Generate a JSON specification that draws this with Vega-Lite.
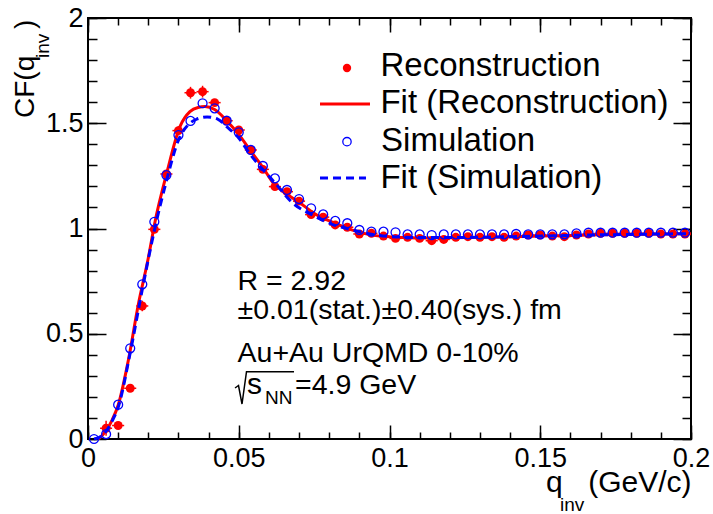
{
  "$schema": "https://vega.github.io/schema/vega-lite/v6.json",
  "width": 603,
  "height": 421,
  "autosize": {"type": "none"},
  "padding": {"left": 88, "top": 18, "right": 22, "bottom": 75},
  "background": "white",
  "config": {
    "view": {"stroke": "black", "strokeWidth": 2},
    "font": "Liberation Sans",
    "axis": {
      "domain": false,
      "grid": false,
      "title": null,
      "tickColor": "black",
      "tickWidth": 1.5,
      "labelColor": "black",
      "labelFont": "Liberation Sans",
      "labelFontSize": 27,
      "labelFlush": false,
      "labelOverlap": false,
      "labelBound": false
    }
  },
  "datasets": {
    "reco": [
      {"q": 0.006, "cf": 0.051, "err": 0.036, "qerr": 0.002},
      {"q": 0.010, "cf": 0.064, "err": 0.015, "qerr": 0.002},
      {"q": 0.014, "cf": 0.241, "err": 0.018, "qerr": 0.002},
      {"q": 0.018, "cf": 0.632, "err": 0.025, "qerr": 0.002},
      {"q": 0.022, "cf": 0.996, "err": 0.015, "qerr": 0.002},
      {"q": 0.026, "cf": 1.259, "err": 0.015, "qerr": 0.002},
      {"q": 0.030, "cf": 1.465, "err": 0.022, "qerr": 0.002},
      {"q": 0.034, "cf": 1.645, "err": 0.028, "qerr": 0.002},
      {"q": 0.038, "cf": 1.650, "err": 0.028, "qerr": 0.002},
      {"q": 0.042, "cf": 1.598, "err": 0.015, "qerr": 0.002},
      {"q": 0.046, "cf": 1.512, "err": 0.012, "qerr": 0.002},
      {"q": 0.050, "cf": 1.468, "err": 0.012, "qerr": 0.002},
      {"q": 0.054, "cf": 1.373, "err": 0.010, "qerr": 0.002},
      {"q": 0.058, "cf": 1.281, "err": 0.010, "qerr": 0.002},
      {"q": 0.062, "cf": 1.199, "err": 0.010, "qerr": 0.002},
      {"q": 0.066, "cf": 1.175, "err": 0.008, "qerr": 0.002},
      {"q": 0.070, "cf": 1.130, "err": 0.008, "qerr": 0.002},
      {"q": 0.074, "cf": 1.066, "err": 0.008, "qerr": 0.002},
      {"q": 0.078, "cf": 1.054, "err": 0.008, "qerr": 0.002},
      {"q": 0.082, "cf": 1.017, "err": 0.008, "qerr": 0.002},
      {"q": 0.086, "cf": 1.006, "err": 0.008, "qerr": 0.002},
      {"q": 0.090, "cf": 0.974, "err": 0.008, "qerr": 0.002},
      {"q": 0.094, "cf": 0.977, "err": 0.008, "qerr": 0.002},
      {"q": 0.098, "cf": 0.964, "err": 0.008, "qerr": 0.002},
      {"q": 0.102, "cf": 0.953, "err": 0.008, "qerr": 0.002},
      {"q": 0.106, "cf": 0.958, "err": 0.008, "qerr": 0.002},
      {"q": 0.110, "cf": 0.953, "err": 0.008, "qerr": 0.002},
      {"q": 0.114, "cf": 0.942, "err": 0.008, "qerr": 0.002},
      {"q": 0.118, "cf": 0.948, "err": 0.008, "qerr": 0.002},
      {"q": 0.122, "cf": 0.958, "err": 0.008, "qerr": 0.002},
      {"q": 0.126, "cf": 0.961, "err": 0.008, "qerr": 0.002},
      {"q": 0.130, "cf": 0.958, "err": 0.008, "qerr": 0.002},
      {"q": 0.134, "cf": 0.961, "err": 0.008, "qerr": 0.002},
      {"q": 0.138, "cf": 0.958, "err": 0.008, "qerr": 0.002},
      {"q": 0.142, "cf": 0.964, "err": 0.008, "qerr": 0.002},
      {"q": 0.146, "cf": 0.969, "err": 0.008, "qerr": 0.002},
      {"q": 0.150, "cf": 0.969, "err": 0.008, "qerr": 0.002},
      {"q": 0.154, "cf": 0.964, "err": 0.008, "qerr": 0.002},
      {"q": 0.158, "cf": 0.961, "err": 0.008, "qerr": 0.002},
      {"q": 0.162, "cf": 0.969, "err": 0.008, "qerr": 0.002},
      {"q": 0.166, "cf": 0.974, "err": 0.008, "qerr": 0.002},
      {"q": 0.170, "cf": 0.977, "err": 0.008, "qerr": 0.002},
      {"q": 0.174, "cf": 0.977, "err": 0.008, "qerr": 0.002},
      {"q": 0.178, "cf": 0.977, "err": 0.008, "qerr": 0.002},
      {"q": 0.182, "cf": 0.977, "err": 0.008, "qerr": 0.002},
      {"q": 0.186, "cf": 0.977, "err": 0.008, "qerr": 0.002},
      {"q": 0.190, "cf": 0.974, "err": 0.008, "qerr": 0.002},
      {"q": 0.194, "cf": 0.974, "err": 0.008, "qerr": 0.002},
      {"q": 0.198, "cf": 0.974, "err": 0.008, "qerr": 0.002}
    ],
    "sim": [
      {"q": 0.002, "cf": 0.000},
      {"q": 0.006, "cf": 0.023},
      {"q": 0.010, "cf": 0.163},
      {"q": 0.014, "cf": 0.431},
      {"q": 0.018, "cf": 0.735},
      {"q": 0.022, "cf": 1.032},
      {"q": 0.026, "cf": 1.254},
      {"q": 0.030, "cf": 1.444},
      {"q": 0.034, "cf": 1.511},
      {"q": 0.038, "cf": 1.595},
      {"q": 0.042, "cf": 1.571},
      {"q": 0.046, "cf": 1.512},
      {"q": 0.050, "cf": 1.457},
      {"q": 0.054, "cf": 1.373},
      {"q": 0.058, "cf": 1.297},
      {"q": 0.062, "cf": 1.238},
      {"q": 0.066, "cf": 1.183},
      {"q": 0.070, "cf": 1.140},
      {"q": 0.074, "cf": 1.096},
      {"q": 0.078, "cf": 1.067},
      {"q": 0.082, "cf": 1.036},
      {"q": 0.086, "cf": 1.025},
      {"q": 0.090, "cf": 0.993},
      {"q": 0.094, "cf": 0.985},
      {"q": 0.098, "cf": 0.985},
      {"q": 0.102, "cf": 0.982},
      {"q": 0.106, "cf": 0.972},
      {"q": 0.110, "cf": 0.972},
      {"q": 0.114, "cf": 0.969},
      {"q": 0.118, "cf": 0.972},
      {"q": 0.122, "cf": 0.972},
      {"q": 0.126, "cf": 0.972},
      {"q": 0.130, "cf": 0.972},
      {"q": 0.134, "cf": 0.972},
      {"q": 0.138, "cf": 0.972},
      {"q": 0.142, "cf": 0.974},
      {"q": 0.146, "cf": 0.972},
      {"q": 0.150, "cf": 0.972},
      {"q": 0.154, "cf": 0.972},
      {"q": 0.158, "cf": 0.972},
      {"q": 0.162, "cf": 0.977},
      {"q": 0.166, "cf": 0.980},
      {"q": 0.170, "cf": 0.980},
      {"q": 0.174, "cf": 0.980},
      {"q": 0.178, "cf": 0.980},
      {"q": 0.182, "cf": 0.980},
      {"q": 0.186, "cf": 0.980},
      {"q": 0.190, "cf": 0.980},
      {"q": 0.194, "cf": 0.980},
      {"q": 0.198, "cf": 0.980}
    ],
    "fitReco": [
      {"q": 0.0035, "cf": 0.0},
      {"q": 0.006, "cf": 0.04},
      {"q": 0.008, "cf": 0.09},
      {"q": 0.010, "cf": 0.16},
      {"q": 0.0134, "cf": 0.375},
      {"q": 0.0167, "cf": 0.64},
      {"q": 0.020, "cf": 0.86},
      {"q": 0.0222, "cf": 1.03},
      {"q": 0.0261, "cf": 1.262},
      {"q": 0.0305, "cf": 1.484},
      {"q": 0.0338, "cf": 1.555},
      {"q": 0.0365, "cf": 1.575},
      {"q": 0.0388, "cf": 1.579},
      {"q": 0.042, "cf": 1.565},
      {"q": 0.046, "cf": 1.512},
      {"q": 0.050, "cf": 1.447},
      {"q": 0.0537, "cf": 1.373},
      {"q": 0.058, "cf": 1.29},
      {"q": 0.0615, "cf": 1.215},
      {"q": 0.0648, "cf": 1.175},
      {"q": 0.070, "cf": 1.125},
      {"q": 0.0759, "cf": 1.064},
      {"q": 0.081, "cf": 1.03},
      {"q": 0.0869, "cf": 0.996},
      {"q": 0.093, "cf": 0.972},
      {"q": 0.1024, "cf": 0.958},
      {"q": 0.110, "cf": 0.955},
      {"q": 0.120, "cf": 0.956},
      {"q": 0.130, "cf": 0.958},
      {"q": 0.140, "cf": 0.961},
      {"q": 0.150, "cf": 0.964},
      {"q": 0.160, "cf": 0.967},
      {"q": 0.170, "cf": 0.970},
      {"q": 0.180, "cf": 0.972},
      {"q": 0.190, "cf": 0.974},
      {"q": 0.200, "cf": 0.975}
    ],
    "fitSim": [
      {"q": 0.002, "cf": 0.0},
      {"q": 0.005, "cf": 0.02},
      {"q": 0.008, "cf": 0.085},
      {"q": 0.010, "cf": 0.15},
      {"q": 0.014, "cf": 0.41},
      {"q": 0.018, "cf": 0.71},
      {"q": 0.022, "cf": 0.99},
      {"q": 0.026, "cf": 1.225},
      {"q": 0.030, "cf": 1.42},
      {"q": 0.0338, "cf": 1.50},
      {"q": 0.036, "cf": 1.519},
      {"q": 0.0395, "cf": 1.53},
      {"q": 0.043, "cf": 1.52},
      {"q": 0.046, "cf": 1.484},
      {"q": 0.050, "cf": 1.43},
      {"q": 0.0537, "cf": 1.354},
      {"q": 0.058, "cf": 1.28},
      {"q": 0.0615, "cf": 1.225},
      {"q": 0.068, "cf": 1.12},
      {"q": 0.075, "cf": 1.06},
      {"q": 0.081, "cf": 1.02},
      {"q": 0.0869, "cf": 0.996},
      {"q": 0.093, "cf": 0.975},
      {"q": 0.1024, "cf": 0.96},
      {"q": 0.110, "cf": 0.957},
      {"q": 0.120, "cf": 0.957},
      {"q": 0.130, "cf": 0.958},
      {"q": 0.140, "cf": 0.961},
      {"q": 0.150, "cf": 0.964},
      {"q": 0.160, "cf": 0.967},
      {"q": 0.170, "cf": 0.970},
      {"q": 0.180, "cf": 0.972},
      {"q": 0.190, "cf": 0.974},
      {"q": 0.200, "cf": 0.975}
    ]
  },
  "resolve": {"axis": {"x": "independent", "y": "independent"}},
  "layer": [
    {
      "data": {"name": "reco"},
      "mark": {"type": "errorbar", "color": "#ff0000", "thickness": 1.5},
      "encoding": {
        "x": {"field": "q", "type": "quantitative", "scale": {"domain": [0, 0.2], "nice": false, "zero": false}, "axis": null},
        "y": {"field": "cf", "type": "quantitative", "scale": {"domain": [0, 2], "nice": false}, "axis": null},
        "yError": {"field": "err"}
      }
    },
    {
      "data": {"name": "reco"},
      "mark": {"type": "errorbar", "color": "#ff0000", "thickness": 1.5},
      "encoding": {
        "x": {"field": "q", "type": "quantitative", "scale": {"domain": [0, 0.2], "nice": false, "zero": false}, "axis": null},
        "xError": {"field": "qerr"},
        "y": {"field": "cf", "type": "quantitative", "scale": {"domain": [0, 2], "nice": false}, "axis": null}
      }
    },
    {
      "data": {"name": "reco"},
      "mark": {"type": "point", "shape": "circle", "filled": true, "color": "#ff0000", "opacity": 1, "size": 80},
      "encoding": {
        "x": {"field": "q", "type": "quantitative", "scale": {"domain": [0, 0.2], "nice": false, "zero": false},
          "axis": {"orient": "bottom", "values": [0, 0.05, 0.1, 0.15, 0.2], "format": "~g", "ticks": false, "labelPadding": 6}},
        "y": {"field": "cf", "type": "quantitative", "scale": {"domain": [0, 2], "nice": false},
          "axis": {"orient": "left", "values": [0, 0.5, 1, 1.5, 2], "format": "~g", "ticks": false, "labelPadding": 5}}
      }
    },
    {
      "data": {"name": "fitReco"},
      "mark": {"type": "line", "color": "#ff0000", "strokeWidth": 3, "interpolate": "monotone"},
      "encoding": {
        "x": {"field": "q", "type": "quantitative", "scale": {"domain": [0, 0.2], "nice": false, "zero": false},
          "axis": {"orient": "bottom", "values": [0, 0.05, 0.1, 0.15, 0.2], "labels": false, "tickSize": 14, "offset": -14}},
        "y": {"field": "cf", "type": "quantitative", "scale": {"domain": [0, 2], "nice": false},
          "axis": {"orient": "left", "values": [0, 0.5, 1, 1.5, 2], "labels": false, "tickSize": 18, "offset": -18}}
      }
    },
    {
      "data": {"name": "sim"},
      "mark": {"type": "point", "shape": "circle", "filled": false, "color": "#0000ff", "opacity": 1, "strokeWidth": 1.3, "size": 80},
      "encoding": {
        "x": {"field": "q", "type": "quantitative", "scale": {"domain": [0, 0.2], "nice": false, "zero": false},
          "axis": {"orient": "bottom", "values": [0, 0.01, 0.02, 0.03, 0.04, 0.05, 0.06, 0.07, 0.08, 0.09, 0.1, 0.11, 0.12, 0.13, 0.14, 0.15, 0.16, 0.17, 0.18, 0.19, 0.2], "labels": false, "tickSize": 7, "offset": -7}},
        "y": {"field": "cf", "type": "quantitative", "scale": {"domain": [0, 2], "nice": false},
          "axis": {"orient": "left", "values": [0, 0.1, 0.2, 0.3, 0.4, 0.5, 0.6, 0.7, 0.8, 0.9, 1, 1.1, 1.2, 1.3, 1.4, 1.5, 1.6, 1.7, 1.8, 1.9, 2], "labels": false, "tickSize": 9, "offset": -9}}
      }
    },
    {
      "data": {"name": "fitSim"},
      "mark": {"type": "line", "color": "#0000ff", "strokeWidth": 3, "strokeDash": [8, 5], "interpolate": "monotone"},
      "encoding": {
        "x": {"field": "q", "type": "quantitative", "scale": {"domain": [0, 0.2], "nice": false, "zero": false},
          "axis": {"orient": "top", "values": [0, 0.05, 0.1, 0.15, 0.2], "labels": false, "tickSize": 14, "offset": -14}},
        "y": {"field": "cf", "type": "quantitative", "scale": {"domain": [0, 2], "nice": false},
          "axis": {"orient": "right", "values": [0, 0.5, 1, 1.5, 2], "labels": false, "tickSize": 18, "offset": -18}}
      }
    },
    {
      "data": {"values": [
        {"q": 0.0496, "cf": 0.7078, "label": "R = 2.92"},
        {"q": 0.0496, "cf": 0.5700, "label": "±0.01(stat.)±0.40(sys.) fm"},
        {"q": 0.0496, "cf": 0.3658, "label": "Au+Au UrQMD 0-10%"},
        {"q": 0.06866, "cf": 0.2124, "label": "=4.9 GeV"}
      ]},
      "mark": {"type": "text", "align": "left", "baseline": "alphabetic", "font": "Liberation Sans", "fontSize": 28.5, "color": "black"},
      "encoding": {
        "x": {"field": "q", "type": "quantitative", "scale": {"domain": [0, 0.2], "nice": false, "zero": false},
          "axis": {"orient": "top", "values": [0, 0.01, 0.02, 0.03, 0.04, 0.05, 0.06, 0.07, 0.08, 0.09, 0.1, 0.11, 0.12, 0.13, 0.14, 0.15, 0.16, 0.17, 0.18, 0.19, 0.2], "labels": false, "tickSize": 7, "offset": -7}},
        "y": {"field": "cf", "type": "quantitative", "scale": {"domain": [0, 2], "nice": false},
          "axis": {"orient": "right", "values": [0, 0.1, 0.2, 0.3, 0.4, 0.5, 0.6, 0.7, 0.8, 0.9, 1, 1.1, 1.2, 1.3, 1.4, 1.5, 1.6, 1.7, 1.8, 1.9, 2], "labels": false, "tickSize": 9, "offset": -9}},
        "text": {"field": "label"}
      }
    },
    {
      "data": {"values": [
        {"q": 0.0527, "cf": 0.2124, "label": "s"}
      ]},
      "mark": {"type": "text", "align": "left", "baseline": "alphabetic", "font": "Liberation Sans", "fontSize": 30, "color": "black"},
      "encoding": {
        "x": {"field": "q", "type": "quantitative", "scale": {"domain": [0, 0.2], "nice": false, "zero": false}, "axis": null},
        "y": {"field": "cf", "type": "quantitative", "scale": {"domain": [0, 2], "nice": false}, "axis": null},
        "text": {"field": "label"}
      }
    },
    {
      "data": {"values": [
        {"k": 0, "q": 0.04876, "cf": 0.2423},
        {"k": 1, "q": 0.04992, "cf": 0.2542},
        {"k": 2, "q": 0.05108, "cf": 0.1663},
        {"k": 3, "q": 0.05257, "cf": 0.3197},
        {"k": 4, "q": 0.06833, "cf": 0.3197}
      ]},
      "mark": {"type": "line", "color": "black", "strokeWidth": 1.5, "strokeJoin": "miter"},
      "encoding": {
        "x": {"field": "q", "type": "quantitative", "scale": {"domain": [0, 0.2], "nice": false, "zero": false}, "axis": null},
        "y": {"field": "cf", "type": "quantitative", "scale": {"domain": [0, 2], "nice": false}, "axis": null},
        "order": {"field": "k"}
      }
    },
    {
      "data": {"values": [
        {"q": 0.05871, "cf": 0.1663, "label": "NN"},
        {"q": 0.15655, "cf": -0.342, "label": "inv"}
      ]},
      "mark": {"type": "text", "align": "left", "baseline": "alphabetic", "font": "Liberation Sans", "fontSize": 19, "color": "black"},
      "encoding": {
        "x": {"field": "q", "type": "quantitative", "scale": {"domain": [0, 0.2], "nice": false, "zero": false}, "axis": null},
        "y": {"field": "cf", "type": "quantitative", "scale": {"domain": [0, 2], "nice": false}, "axis": null},
        "text": {"field": "label"}
      }
    },
    {
      "data": {"values": [
        {"q": 0.1519, "cf": -0.2518, "label": "q"},
        {"q": 0.1659, "cf": -0.2518, "label": "(GeV/c)"}
      ]},
      "mark": {"type": "text", "align": "left", "baseline": "alphabetic", "font": "Liberation Sans", "fontSize": 30, "color": "black"},
      "encoding": {
        "x": {"field": "q", "type": "quantitative", "scale": {"domain": [0, 0.2], "nice": false, "zero": false}, "axis": null},
        "y": {"field": "cf", "type": "quantitative", "scale": {"domain": [0, 2], "nice": false}, "axis": null},
        "text": {"field": "label"}
      }
    },
    {
      "data": {"values": [
        {"q": -0.01791, "cf": 1.5249, "label": "CF(q"},
        {"q": -0.01791, "cf": 1.948, "label": ")"}
      ]},
      "mark": {"type": "text", "align": "left", "baseline": "alphabetic", "angle": 270, "font": "Liberation Sans", "fontSize": 28, "color": "black"},
      "encoding": {
        "x": {"field": "q", "type": "quantitative", "scale": {"domain": [0, 0.2], "nice": false, "zero": false}, "axis": null},
        "y": {"field": "cf", "type": "quantitative", "scale": {"domain": [0, 2], "nice": false}, "axis": null},
        "text": {"field": "label"}
      }
    },
    {
      "data": {"values": [
        {"q": -0.01294, "cf": 1.810, "label": "inv"}
      ]},
      "mark": {"type": "text", "align": "left", "baseline": "alphabetic", "angle": 270, "font": "Liberation Sans", "fontSize": 19, "color": "black"},
      "encoding": {
        "x": {"field": "q", "type": "quantitative", "scale": {"domain": [0, 0.2], "nice": false, "zero": false}, "axis": null},
        "y": {"field": "cf", "type": "quantitative", "scale": {"domain": [0, 2], "nice": false}, "axis": null},
        "text": {"field": "label"}
      }
    },
    {
      "data": {"values": [
        {"q": 0.0970, "cf": 1.7245, "label": "Reconstruction"},
        {"q": 0.0970, "cf": 1.5487, "label": "Fit (Reconstruction)"},
        {"q": 0.0972, "cf": 1.3682, "label": "Simulation"},
        {"q": 0.0970, "cf": 1.1924, "label": "Fit (Simulation)"}
      ]},
      "mark": {"type": "text", "align": "left", "baseline": "alphabetic", "font": "Liberation Sans", "fontSize": 33, "color": "black"},
      "encoding": {
        "x": {"field": "q", "type": "quantitative", "scale": {"domain": [0, 0.2], "nice": false, "zero": false}, "axis": null},
        "y": {"field": "cf", "type": "quantitative", "scale": {"domain": [0, 2], "nice": false}, "axis": null},
        "text": {"field": "label"}
      }
    },
    {
      "data": {"values": [{"q": 0.0859, "cf": 1.7625}]},
      "mark": {"type": "point", "shape": "circle", "filled": true, "color": "#ff0000", "opacity": 1, "size": 70},
      "encoding": {
        "x": {"field": "q", "type": "quantitative", "scale": {"domain": [0, 0.2], "nice": false, "zero": false}, "axis": null},
        "y": {"field": "cf", "type": "quantitative", "scale": {"domain": [0, 2], "nice": false}, "axis": null}
      }
    },
    {
      "data": {"values": [{"q": 0.0859, "cf": 1.4124}]},
      "mark": {"type": "point", "shape": "circle", "filled": false, "color": "#0000ff", "opacity": 1, "strokeWidth": 1.3, "size": 70},
      "encoding": {
        "x": {"field": "q", "type": "quantitative", "scale": {"domain": [0, 0.2], "nice": false, "zero": false}, "axis": null},
        "y": {"field": "cf", "type": "quantitative", "scale": {"domain": [0, 2], "nice": false}, "axis": null}
      }
    },
    {
      "data": {"values": [{"q": 0.07695, "q2": 0.09353, "cf": 1.5914}]},
      "mark": {"type": "rule", "color": "#ff0000", "strokeWidth": 3},
      "encoding": {
        "x": {"field": "q", "type": "quantitative", "scale": {"domain": [0, 0.2], "nice": false, "zero": false}, "axis": null},
        "x2": {"field": "q2"},
        "y": {"field": "cf", "type": "quantitative", "scale": {"domain": [0, 2], "nice": false}, "axis": null}
      }
    },
    {
      "data": {"values": [{"q": 0.07695, "q2": 0.0922, "cf": 1.2399}]},
      "mark": {"type": "rule", "color": "#0000ff", "strokeWidth": 3, "strokeDash": [8, 5]},
      "encoding": {
        "x": {"field": "q", "type": "quantitative", "scale": {"domain": [0, 0.2], "nice": false, "zero": false}, "axis": null},
        "x2": {"field": "q2"},
        "y": {"field": "cf", "type": "quantitative", "scale": {"domain": [0, 2], "nice": false}, "axis": null}
      }
    }
  ]
}
